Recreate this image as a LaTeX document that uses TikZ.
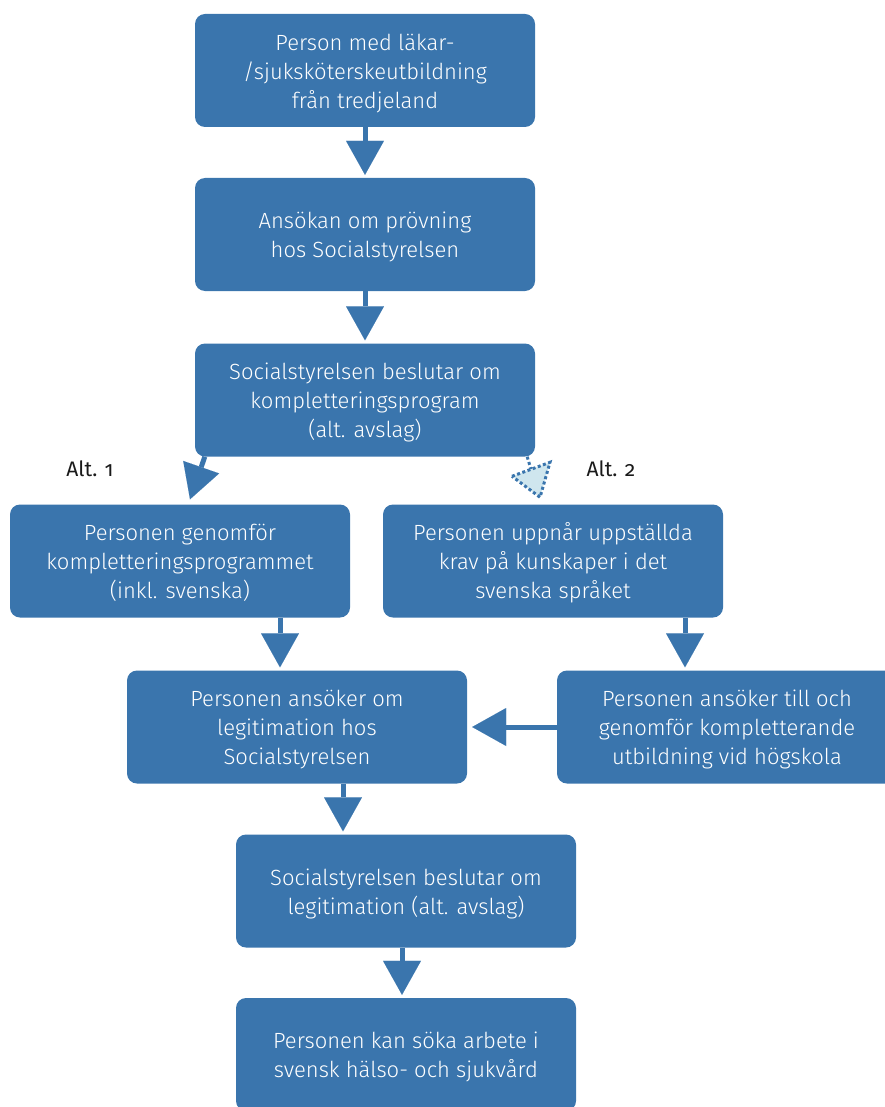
\documentclass[tikz,border=0pt]{standalone}
\usepackage{fontspec}
\setmainfont{Fira Sans}[UprightFont=* Light, Numbers=OldStyle]
\newfontfamily\altfont{Fira Sans}[Numbers=OldStyle]
\usetikzlibrary{arrows.meta,calc}
\definecolor{boxblue}{HTML}{3A75AD}
\definecolor{paleblue}{HTML}{CFE6EE}
\definecolor{labelgray}{HTML}{1A1A1A}
\newcommand{\boxtext}[1]{\raisebox{-3pt}[\height][\depth]{\begin{tabular}{@{}c@{}}#1\end{tabular}}}
\begin{document}
\begin{tikzpicture}[x=1pt,y=-1pt,
  stepbox/.style={fill=boxblue, rounded corners=10pt, minimum width=340pt, minimum height=113pt,
    text=white, font=\fontsize{22}{29}\selectfont, inner sep=0pt},
  conn/.style={draw=boxblue, line width=5pt,
    -{Triangle[length=34pt,width=38pt,line width=0.01pt]}, shorten >=3pt},
  dotline/.style={draw=boxblue, line width=3pt, dash pattern=on 3pt off 2.5pt},
  altlabel/.style={text=labelgray, font=\altfont\fontsize{21}{25}\selectfont, inner sep=0pt}]
\clip (0,0) rectangle (885,1107);
\node[stepbox] (b1) at (365,70.5) {\boxtext{Person med läkar-\\/sjuksköterskeutbildning\\från tredjeland}};
\node[stepbox] (b2) at (365,234.5) {\boxtext{Ansökan om prövning\\hos Socialstyrelsen}};
\node[stepbox] (b3) at (365,400) {\boxtext{Socialstyrelsen beslutar om\\kompletteringsprogram\\(alt. avslag)}};
\node[stepbox] (b4) at (180,561) {\boxtext{Personen genomför\\kompletteringsprogrammet\\(inkl. svenska)}};
\node[stepbox] (b5) at (553,561) {\boxtext{Personen uppnår uppställda\\krav på kunskaper i det\\svenska språket}};
\node[stepbox] (b6) at (297,727) {\boxtext{Personen ansöker om\\legitimation hos\\Socialstyrelsen}};
\node[stepbox] (b7) at (727,727) {\boxtext{Personen ansöker till och\\genomför kompletterande\\utbildning vid högskola}};
\node[stepbox] (b8) at (406,891) {\boxtext{Socialstyrelsen beslutar om\\legitimation (alt. avslag)}};
\node[stepbox] (b9) at (406,1054.5) {\boxtext{Personen kan söka arbete i\\svensk hälso- och sjukvård}};
\node[altlabel] (alt1) at (90,469) {Alt. 1};
\node[altlabel] (alt2) at (611,469) {Alt. 2};
% connectors
\draw[conn] (b1.south) -- (b2.north);
\draw[conn] (b2.south) -- (b3.north);
\draw[conn, shorten >=0pt] ([xshift=10pt]b3.south west) -- ([shift={(10,-5)}]b4.north);
\draw[conn] ([xshift=100pt]b4.south) -- ([xshift=100pt]b4.south |- b6.north);
\draw[conn] ([xshift=132pt]b5.south) -- ([xshift=132pt]b5.south |- b7.north);
\draw[conn, shorten >=5pt] (b7.west) -- (b7.west -| b6.east);
\draw[conn] ([xshift=46pt]b6.south) -- ([xshift=46pt]b6.south |- b8.north);
\draw[conn] ([xshift=-4pt]b8.south) -- ([xshift=-4pt]b8.south |- b9.north);
% Alt. 2 dotted arrow
\coordinate (t2tip) at ([shift={(-13,-7)}]b5.north);
\coordinate (t2a) at ([shift={(-41,-28)}]b5.north);
\coordinate (t2b) at ([shift={(-3,-42)}]b5.north);
\draw[dotline] ([xshift=-8pt]b3.south east) -- ($(t2a)!0.5!(t2b)$);
\filldraw[dotline, fill=paleblue] (t2a) -- (t2b) -- (t2tip) -- cycle;
\end{tikzpicture}
\end{document}
